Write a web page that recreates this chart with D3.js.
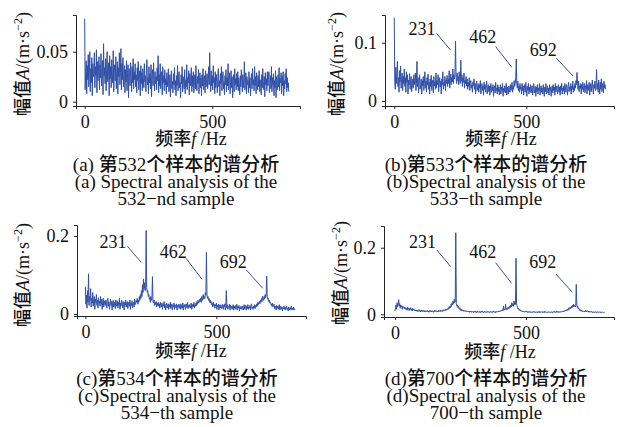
<!DOCTYPE html>
<html>
<head>
<meta charset="utf-8">
<script src="https://cdn.jsdelivr.net/npm/d3@7/dist/d3.min.js"></script>
<style>
  body { margin: 0; background: #fff; }
  .axis path, .axis line { stroke: #222; stroke-width: 1; }
  .axis text { font-family: "Liberation Serif", "Times New Roman", serif; font-size: 18px; fill: #111; }
  .lbl { font-family: "Liberation Serif", "Times New Roman", serif; font-size: 18px; fill: #111; }
</style>
</head>
<body>
<svg id="chart" width="623" height="427"></svg>
<script>
// frequency step between samples (Hz)
const freqStep = 2;

// spectrum amplitudes, m/s^2, 0..800 Hz every 2 Hz (one row = 40 Hz)
const amp532 = [
  .083, .012, .030, .041, .008, .036, .022, .047, .015, .028, .050, .010, .033, .019, .044, .006, .038, .025, .031, .049,
  .014, .035, .026, .052, .009, .040, .021, .030, .045, .012, .037, .024, .048, .016, .029, .041, .007, .058, .026, .034,
  .018, .043, .011, .032, .050, .020, .027, .039, .006, .046, .023, .035, .014, .042, .028, .019, .051, .010, .031, .037,
  .021, .045, .013, .030, .040, .008, .034, .025, .049, .017, .029, .053, .012, .038, .022, .044, .015, .027, .036, .009,
  .032, .020, .041, .011, .028, .037, .004, .033, .024, .016, .039, .026, .010, .035, .019, .043, .013, .030, .022, .038,
  .015, .027, .009, .034, .021, .040, .012, .025, .031, .006, .036, .018, .029, .011, .033, .023, .014, .038, .020, .026,
  .010, .031, .042, .017, .024, .008, .035, .019, .028, .013, .037, .005, .026, .032, .016, .039, .022, .011, .030, .018,
  .025, .012, .034, .021, .046, .009, .027, .016, .038, .013, .024, .030, .007, .035, .019, .026, .011, .032, .017, .023,
  .008, .029, .015, .022, .033, .010, .018, .027, .005, .024, .031, .013, .020, .009, .028, .017, .034, .012, .021, .006,
  .026, .016, .036, .011, .023, .030, .014, .019, .004, .027, .018, .035, .010, .025, .021, .013, .032, .008, .022, .015,
  .037, .012, .024, .019, .031, .007, .028, .016, .022, .034, .010, .026, .015, .030, .009, .020, .027, .013, .036, .017,
  .011, .025, .018, .032, .008, .021, .029, .014, .024, .006, .027, .016, .033, .012, .019, .026, .009, .031, .015, .022,
  .028, .013, .020, .035, .017, .049, .022, .010, .031, .016, .026, .012, .036, .019, .024, .008, .030, .014, .027, .020,
  .009, .025, .033, .015, .021, .006, .028, .018, .035, .011, .023, .030, .013, .020, .007, .026, .017, .032, .010, .024,
  .016, .038, .012, .022, .029, .008, .019, .031, .014, .025, .004, .021, .027, .010, .033, .017, .023, .012, .028, .015,
  .030, .011, .024, .018, .007, .026, .015, .032, .020, .010, .027, .014, .022, .040, .012, .019, .029, .008, .025, .017,
  .021, .009, .030, .014, .024, .006, .019, .028, .013, .033, .017, .022, .011, .035, .016, .025, .008, .029, .020, .012,
  .026, .015, .031, .010, .022, .018, .007, .027, .014, .033, .020, .012, .025, .005, .029, .017, .023, .011, .030, .016,
  .022, .030, .009, .019, .026, .013, .035, .010, .024, .017, .028, .006, .021, .014, .031, .004, .025, .018, .012, .027,
  .015, .034, .011, .023, .019, .029, .008, .026, .016, .030, .006, .021, .013, .028, .018, .033, .010, .024, .014, .019,
  .010
];
const amp533 = [
  .143, .035, .020, .058, .030, .045, .068, .025, .040, .015, .052, .033, .060, .022, .038, .048, .018, .042, .030, .055,
  .025, .040, .015, .050, .032, .045, .012, .036, .028, .047, .020, .034, .042, .016, .030, .038, .022, .045, .028, .035,
  .048, .018, .030, .068, .025, .040, .014, .033, .045, .020, .028, .038, .012, .035, .026, .042, .018, .030, .050, .022,
  .034, .015, .040, .028, .046, .020, .032, .012, .038, .025, .044, .018, .030, .036, .014, .042, .026, .033, .020, .048,
  .022, .035, .028, .045, .016, .030, .040, .024, .034, .012, .038, .028, .050, .020, .032, .026, .042, .018, .036, .030,
  .044, .025, .038, .030, .052, .022, .035, .046, .028, .040, .033, .055, .030, .045, .038, .050, .103, .040, .030, .048,
  .035, .042, .028, .050, .038, .030, .070, .034, .045, .025, .040, .032, .048, .022, .036, .030, .042, .026, .038, .020,
  .032, .025, .040, .018, .030, .035, .022, .028, .015, .033, .026, .038, .020, .030, .012, .028, .034, .018, .024, .030,
  .015, .028, .022, .035, .012, .025, .030, .018, .026, .010, .032, .020, .028, .015, .024, .034, .012, .022, .028, .016,
  .026, .010, .022, .030, .015, .024, .018, .028, .008, .020, .026, .014, .032, .018, .022, .012, .028, .016, .024, .010,
  .020, .028, .012, .024, .018, .030, .008, .022, .016, .026, .014, .020, .030, .010, .024, .018, .012, .026, .020, .015,
  .028, .018, .024, .032, .015, .026, .020, .035, .025, .030, .040, .072, .028, .022, .034, .018, .026, .015, .030, .020,
  .024, .012, .030, .018, .026, .010, .022, .028, .015, .032, .020, .008, .025, .018, .030, .012, .024, .016, .028, .014,
  .020, .026, .010, .022, .030, .014, .018, .025, .008, .024, .016, .028, .012, .022, .018, .030, .010, .020, .026, .015,
  .022, .012, .028, .018, .008, .024, .016, .030, .012, .020, .026, .014, .022, .010, .028, .018, .024, .008, .020, .026,
  .014, .028, .018, .024, .010, .030, .016, .022, .026, .012, .020, .028, .015, .024, .010, .026, .018, .030, .012, .022,
  .018, .026, .012, .030, .020, .015, .028, .022, .010, .025, .032, .016, .024, .018, .030, .012, .026, .020, .034, .015,
  .025, .018, .030, .022, .035, .028, .049, .030, .020, .034, .016, .026, .022, .030, .012, .028, .020, .032, .016, .024,
  .030, .014, .026, .020, .035, .012, .028, .018, .024, .032, .010, .022, .030, .016, .026, .036, .020, .012, .028, .022,
  .034, .018, .028, .054, .020, .030, .015, .036, .024, .012, .032, .020, .038, .016, .026, .030, .014, .034, .022, .028,
  .020
];
const amp534 = [
  .070, .025, .048, .015, .060, .030, .103, .022, .045, .035, .065, .018, .040, .028, .055, .020, .036, .045, .012, .038,
  .030, .050, .022, .035, .015, .042, .028, .033, .020, .045, .025, .038, .012, .030, .040, .018, .034, .026, .022, .036,
  .028, .015, .035, .040, .020, .030, .012, .026, .038, .022, .032, .010, .028, .035, .018, .024, .030, .014, .036, .020,
  .026, .034, .015, .030, .022, .040, .012, .028, .020, .035, .025, .016, .032, .024, .010, .030, .022, .036, .018, .026,
  .032, .014, .025, .030, .020, .036, .012, .028, .022, .034, .016, .026, .030, .018, .038, .024, .028, .035, .030, .040,
  .025, .036, .030, .045, .035, .050, .040, .060, .045, .075, .055, .090, .065, .080, .060, .070, .214, .068, .055, .060,
  .045, .050, .038, .042, .030, .045, .035, .040, .096, .032, .028, .036, .022, .030, .025, .032, .018, .028, .022, .030,
  .020, .026, .015, .030, .022, .018, .028, .012, .024, .020, .032, .016, .025, .010, .022, .028, .015, .020, .026, .012,
  .024, .018, .030, .014, .020, .026, .010, .022, .018, .028, .012, .024, .020, .016, .026, .010, .022, .018, .025, .014,
  .020, .026, .012, .018, .024, .015, .028, .010, .022, .018, .025, .012, .020, .026, .016, .030, .014, .022, .018, .024,
  .015, .022, .028, .012, .020, .025, .018, .030, .015, .024, .020, .028, .022, .032, .025, .035, .028, .030, .038, .032,
  .040, .030, .045, .035, .042, .050, .038, .045, .040, .055, .048, .158, .050, .040, .045, .035, .040, .030, .036, .028,
  .032, .024, .028, .018, .030, .022, .026, .015, .024, .020, .028, .012, .022, .018, .025, .010, .020, .024, .016, .022,
  .014, .020, .025, .012, .022, .018, .026, .010, .020, .060, .016, .024, .012, .020, .018, .025, .010, .022, .016, .020,
  .012, .018, .024, .010, .020, .015, .022, .012, .018, .025, .010, .020, .016, .022, .008, .018, .014, .020, .012, .018,
  .020, .010, .016, .024, .012, .018, .022, .010, .020, .014, .024, .012, .018, .015, .022, .010, .020, .026, .014, .018,
  .012, .020, .016, .024, .014, .022, .018, .026, .020, .030, .024, .028, .032, .026, .035, .030, .040, .032, .045, .038,
  .035, .045, .038, .050, .042, .048, .097, .045, .038, .040, .032, .036, .028, .030, .024, .026, .020, .028, .018, .022,
  .025, .014, .020, .018, .010, .022, .015, .020, .012, .018, .024, .010, .016, .020, .012, .018, .008, .016, .014, .020,
  .012, .018, .010, .016, .020, .012, .015, .008, .018, .014, .010, .016, .012, .020, .010, .015, .012, .018, .010, .014,
  .012
];
const amp700 = [
  .010, .020, .028, .015, .035, .022, .030, .044, .025, .032, .018, .028, .022, .026, .015, .024, .020, .018, .022, .016,
  .020, .014, .018, .012, .022, .015, .019, .011, .017, .014, .020, .012, .016, .010, .018, .013, .015, .010, .014, .012,
  .010, .013, .009, .012, .008, .011, .014, .009, .012, .007, .010, .013, .008, .011, .009, .012, .007, .010, .008, .011,
  .009, .007, .011, .008, .010, .006, .009, .012, .008, .010, .007, .011, .009, .006, .010, .008, .012, .007, .009, .011,
  .008, .010, .007, .012, .009, .011, .008, .013, .010, .009, .012, .008, .011, .014, .010, .012, .015, .011, .013, .016,
  .014, .018, .015, .022, .018, .025, .020, .030, .024, .035, .028, .040, .032, .045, .035, .038, .245, .032, .025, .028,
  .020, .024, .018, .015, .020, .012, .016, .010, .014, .011, .013, .009, .012, .010, .008, .011, .009, .010, .007, .009,
  .008, .010, .006, .009, .007, .010, .006, .008, .007, .009, .005, .008, .007, .010, .006, .008, .005, .009, .007, .006,
  .008, .006, .009, .005, .008, .007, .010, .006, .008, .005, .007, .009, .006, .008, .005, .007, .009, .006, .008, .007,
  .005, .008, .006, .009, .007, .005, .008, .006, .010, .007, .006, .008, .005, .009, .007, .006, .008, .010, .007, .009,
  .008, .011, .009, .012, .010, .014, .011, .025, .012, .016, .013, .030, .015, .018, .014, .020, .016, .022, .018, .025,
  .020, .028, .022, .035, .026, .030, .024, .040, .028, .035, .030, .168, .032, .025, .020, .016, .018, .012, .015, .010,
  .012, .009, .011, .008, .010, .007, .009, .006, .008, .010, .007, .009, .006, .008, .005, .007, .009, .006, .008, .005,
  .007, .006, .008, .005, .007, .009, .006, .008, .005, .007, .006, .008, .005, .007, .006, .009, .005, .007, .006, .008,
  .006, .008, .005, .007, .006, .009, .005, .007, .008, .006, .005, .007, .006, .008, .005, .007, .006, .005, .008, .006,
  .007, .005, .008, .006, .009, .007, .005, .008, .006, .010, .007, .006, .008, .005, .007, .009, .006, .008, .007, .009,
  .008, .010, .007, .011, .009, .012, .010, .014, .011, .015, .012, .018, .014, .020, .016, .022, .018, .025, .020, .028,
  .022, .030, .024, .028, .022, .026, .090, .028, .020, .024, .016, .018, .012, .015, .010, .013, .009, .011, .008, .010,
  .009, .007, .010, .008, .012, .007, .009, .011, .008, .010, .006, .009, .007, .008, .006, .009, .007, .005, .008, .006,
  .007, .005, .008, .006, .007, .005, .008, .006, .007, .005, .006, .008, .005, .007, .006, .005, .007, .006, .005, .007,
  .006
];

const xTicks = [0, 500];
const yTicks532 = [0, 0.05];
const yTicks533 = [0, 0.1];
const yTicks534 = [0, 0.2];
const yTicks700 = [0, 0.2];

// harmonic peaks that get a leader label
const peakLabels = ["231", "462", "692"];
const labelFreq = [105, 335, 564];
const leaderFrom = [160, 384, 614];
const leaderTo = [213, 445, 677];

const captionsCn = ["(a) 第532个样本的谱分析", "(b)第533个样本的谱分析", "(c)第534个样本的谱分析", "(d)第700个样本的谱分析"];
const captionsEn1 = ["(a) Spectral analysis of the", "(b)Spectral analysis of the", "(c)Spectral analysis of the", "(d)Spectral analysis of the"];
const captionsEn2 = ["532\u2212nd sample", "533\u2212th sample", "534\u2212th sample", "700\u2212th sample"];

const lineColor = "#2f4fa8";
const cjkFont = '"Noto Sans CJK SC", sans-serif';

const panels = [
  { values: amp532, yTicks: yTicks532, fmt: d => d === 0 ? "0" : "0.05",
    xr: [76, 300], fd: [-34, 844], yr: [106, 15], vd: [-0.0043, 0.0867],
    ylab: [23, 64], xlab: [191, 139], cap: [176, 164], notes: null },
  { values: amp533, yTicks: yTicks533, fmt: d => d === 0 ? "0" : "0.1",
    xr: [385, 614], fd: [-35, 832], yr: [106, 15], vd: [-0.0086, 0.1475],
    ylab: [337, 64], xlab: [501, 139], cap: [486, 164],
    notes: { text: [0.1247, 0.1098, 0.0887], from: [0.116, 0.0933, 0.0732], to: [0.0875, 0.0578, 0.0429] } },
  { values: amp534, yTicks: yTicks534, fmt: d => d === 0 ? "0" : "0.2",
    xr: [77, 306], fd: [-32, 842], yr: [316, 225], vd: [-0.0051, 0.2282],
    ylab: [23, 275], xlab: [191, 351], cap: [177, 378],
    notes: { text: [0.185, 0.160, 0.134], from: [0.174, 0.143, 0.113], to: [0.1326, 0.089, 0.066] } },
  { values: amp700, yTicks: yTicks700, fmt: d => d === 0 ? "0" : "0.2",
    xr: [384, 614], fd: [-42, 836], yr: [317, 226], vd: [-0.0081, 0.2652],
    ylab: [341, 273], xlab: [500, 352], cap: [486, 378],
    notes: { text: [0.218, 0.188, 0.158], from: [0.193, 0.155, 0.121], to: [0.143, 0.093, 0.066] } }
];

const svg = d3.select("#chart");
svg.append("rect").attr("width", 623).attr("height", 427).attr("fill", "#fff");

// split a string into CJK / latin runs so each gets its own font
function richText(sel, str, size) {
  str.split(/([\u4e00-\u9fff]+)/).filter(s => s.length).forEach(part => {
    const t = sel.append("tspan").text(part);
    if (/[\u4e00-\u9fff]/.test(part)) {
      t.style("font-family", cjkFont).style("font-size", size + "px").style("font-weight", 500);
    }
  });
}

panels.forEach((p, k) => {
  const x = d3.scaleLinear().domain(p.fd).range(p.xr);
  const y = d3.scaleLinear().domain(p.vd).range(p.yr);
  const g = svg.append("g");

  g.append("g")
    .attr("class", "axis")
    .attr("transform", "translate(0," + p.yr[0] + ")")
    .call(d3.axisBottom(x).tickValues(xTicks).tickSize(3).tickPadding(6).tickFormat(d3.format("d")));

  g.append("g")
    .attr("class", "axis")
    .attr("transform", "translate(" + p.xr[0] + ",0)")
    .call(d3.axisLeft(y).tickValues(p.yTicks).tickSize(3).tickPadding(5).tickFormat(p.fmt));

  g.selectAll(".axis text").style("font-family", '"Liberation Serif", serif').style("font-size", "18px");

  const line = d3.line()
    .x((d, i) => x(i * freqStep))
    .y(d => y(d));

  g.append("path")
    .datum(p.values)
    .attr("fill", "none")
    .attr("stroke", lineColor)
    .attr("stroke-width", 1)
    .attr("stroke-linejoin", "round")
    .attr("d", line);

  if (p.notes) {
    peakLabels.forEach((lab, j) => {
      g.append("line")
        .attr("x1", x(leaderFrom[j])).attr("y1", y(p.notes.from[j]))
        .attr("x2", x(leaderTo[j])).attr("y2", y(p.notes.to[j]))
        .attr("stroke", lineColor).attr("stroke-width", 1);
      g.append("text")
        .attr("class", "lbl")
        .attr("x", x(labelFreq[j])).attr("y", y(p.notes.text[j]))
        .attr("text-anchor", "middle").attr("dy", "0.35em")
        .text(lab);
    });
  }

  // y axis title
  const yt = g.append("text")
    .attr("class", "lbl")
    .attr("transform", "translate(" + p.ylab[0] + "," + p.ylab[1] + ") rotate(-90)")
    .attr("text-anchor", "middle").attr("dy", "0.35em");
  yt.append("tspan").style("font-family", cjkFont).style("font-weight", 500).text("幅值");
  yt.append("tspan").style("font-style", "italic").text("A");
  yt.append("tspan").text("/(m\u00b7s");
  yt.append("tspan").attr("dy", -7).style("font-size", "12px").text("\u22122");
  yt.append("tspan").attr("dy", 7).text(")");

  // x axis title
  const xt = g.append("text")
    .attr("class", "lbl")
    .attr("x", p.xlab[0]).attr("y", p.xlab[1])
    .attr("text-anchor", "middle").attr("dy", "0.35em");
  xt.append("tspan").style("font-family", cjkFont).style("font-weight", 500).text("频率");
  xt.append("tspan").style("font-style", "italic").text("f");
  xt.append("tspan").text(" /Hz");

  // caption lines
  const c1 = g.append("text").attr("class", "lbl").style("font-size", "19px")
    .attr("x", p.cap[0]).attr("y", p.cap[1]).attr("dy", "0.35em").attr("text-anchor", "middle");
  richText(c1, captionsCn[k], 19);
  g.append("text").attr("class", "lbl").style("font-size", "19px")
    .attr("x", p.cap[0]).attr("y", p.cap[1] + 17).attr("dy", "0.35em").attr("text-anchor", "middle")
    .text(captionsEn1[k]);
  g.append("text").attr("class", "lbl").style("font-size", "19px")
    .attr("x", p.cap[0]).attr("y", p.cap[1] + 34).attr("dy", "0.35em").attr("text-anchor", "middle")
    .text(captionsEn2[k]);
});
</script>
</body>
</html>
